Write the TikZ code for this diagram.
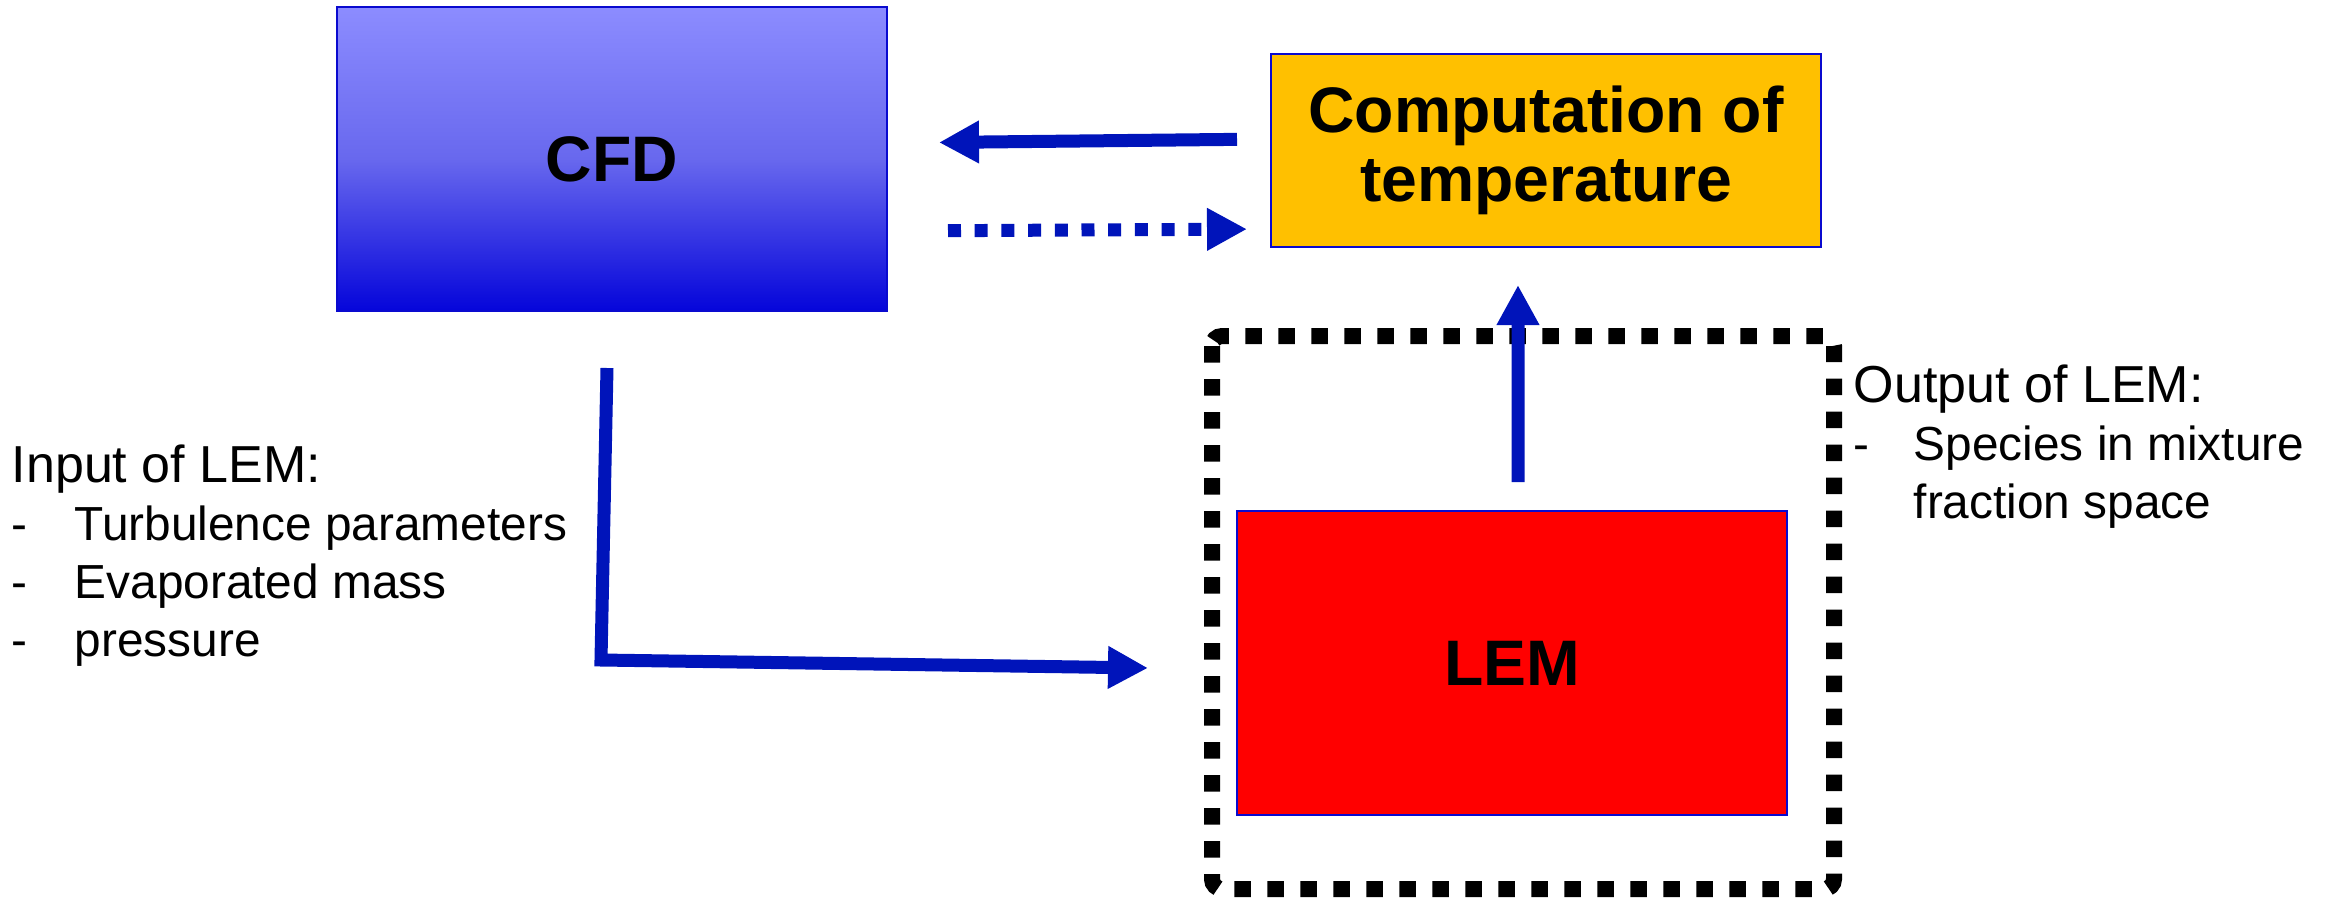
\documentclass[tikz,border=0pt]{standalone}
\usepackage{fontspec}
\setmainfont{Liberation Sans}
\usepackage{tikz}
\usetikzlibrary{arrows.meta,calc,positioning}
\definecolor{lblue}{HTML}{0014BA}
\definecolor{lline}{HTML}{0A0ACF}
\definecolor{lorange}{HTML}{FFC000}
\definecolor{lred}{HTML}{FF0000}
\definecolor{ltop}{HTML}{8C8CFF}
\definecolor{lmid}{HTML}{6868EE}
\definecolor{lbot}{HTML}{0505DA}
\newcommand{\lemhead}{\fontsize{14.8}{17.6}\selectfont}
\newcommand{\lemitem}{\fontsize{13.6}{16.5}\selectfont}
\tikzset{
  >={Triangle[length=4mm,width=4mm]},
  lbox/.style={draw=lline, line width=0.6pt, minimum width=5.5cm,
               inner sep=0pt, outer sep=0pt, align=center,
               font=\fontsize{18.3}{19.8}\selectfont\bfseries},
  lflow/.style={->, lblue, line width=1.3mm},
  ldots/.style={dash pattern=on 1.3mm off 1.37mm},
  lframe/.style={draw=black, line width=1.6mm,
                 dash pattern=on 1.65mm off 1.65mm, rounded corners=1mm},
  ltxt/.style={align=left, inner sep=0pt, anchor=north west, font=\lemitem},
}
\begin{document}
\begin{tikzpicture}
  \useasboundingbox (0,0) rectangle (23.31,9.02);

  % --- blocks ---
  \node[lbox, minimum height=3.04cm, top color=ltop, bottom color=lbot,
        middle color=lmid] (cfd) at (6.12,7.43) {CFD};
  \node[lbox, minimum height=1.93cm, fill=lorange] (comp) at (15.46,7.515)
       {Computation of\\temperature};
  \node[lbox, minimum height=3.04cm, fill=lred] (lem) at (15.12,2.39) {LEM};

  % dotted frame round LEM
  \draw[lframe] (12.12,5.66) rectangle (18.34,0.13);

  % --- exchange CFD <-> temperature ---
  \draw[lflow, shorten <=3.4mm, shorten >=5.2mm]
    ([yshift=1.15mm]comp.west) -- ([yshift=1.6mm]cfd.east);
  \draw[lflow, ldots, shorten <=6.1mm, shorten >=2.4mm]
    ([yshift=-7.2mm]cfd.east) -- ([yshift=-7.85mm]comp.west);

  % LEM output up to temperature
  \draw[lflow] ([xshift=0.6mm,yshift=2.9mm]lem.north)
    -- ([xshift=-2.8mm,yshift=-3.8mm]comp.south);

  % CFD down and across to LEM
  \coordinate (bend) at (6.01,2.42);
  \draw[lflow] ([xshift=-0.5mm,yshift=-5.7mm]cfd.south) -- (bend)
    -- ([xshift=-8.9mm,yshift=-0.5mm]lem.west);

  % --- texts ---
  \node[ltxt] (input) at (0.11,4.58)
    {\lemhead Input of LEM:\\
     \makebox[6.3mm][l]{-}Turbulence parameters\\
     \makebox[6.3mm][l]{-}Evaporated mass\\
     \makebox[6.3mm][l]{-}pressure};
  \node[ltxt] (output) at (18.53,5.38)
    {\lemhead Output of LEM:\\
     \makebox[6mm][l]{-}Species in mixture\\
     \hspace{6mm}fraction space};

\end{tikzpicture}
\end{document}
